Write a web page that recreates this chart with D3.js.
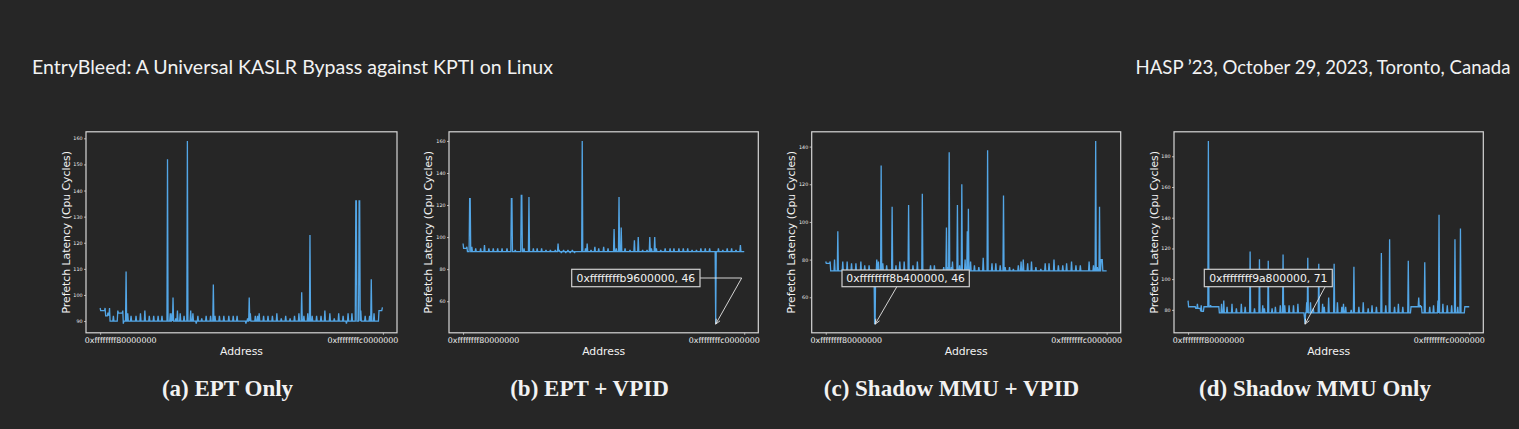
<!DOCTYPE html>
<html><head><meta charset="utf-8">
<script src="https://cdn.jsdelivr.net/npm/d3@7"></script>
<style>html,body{margin:0;padding:0;background:#262626;overflow:hidden}svg{display:block}</style>
</head><body>
<svg id="chart" width="1519" height="429"></svg>
<script>
// ---------------- DATA ----------------
const N = 512; // 2 MiB slots between the two tick addresses
const xTickIdx = [0, 512];
const xTickLabels = ["0xffffffff80000000", "0xffffffffc0000000"];
const headerLeft = "EntryBleed: A Universal KASLR Bypass against KPTI on Linux";
const headerRight = "HASP \u201923, October 29, 2023, Toronto, Canada";
const captions = ["(a) EPT Only", "(b) EPT + VPID", "(c) Shadow MMU + VPID", "(d) Shadow MMU Only"];
const xLabel = "Address";
const yLabel = "Prefetch Latency (Cpu Cycles)";

const yTicksA = [90, 100, 110, 120, 130, 140, 150, 160];
const yTicksB = [60, 80, 100, 120, 140, 160];
const yTicksC = [60, 80, 100, 120, 140];
const yTicksD = [80, 100, 120, 140, 160, 180];

// baseline latency + [startIdx, endIdx, value] readings
const baseA = 90;
const segA = [[0,0,95],[1,8,94],[9,9,95],[10,13,92],[14,15,93],[16,16,92],[17,17,95],
[24,24,92],[32,32,94],[33,40,93],[41,41,94],[42,42,89],[47,47,109],[50,50,93],[56,56,92],[65,65,92],
[73,73,93],[81,81,94],[89,89,92],[97,97,92],[105,105,92],[112,112,92],[122,122,152],[127,127,93],
[130,130,93],[132,132,99],[137,137,91],[140,140,94],[145,145,93],[152,152,92],[158,158,159],[164,164,94],
[168,168,93],[174,174,89],[177,177,92],[184,184,91],[192,192,92],[200,200,92],[205,205,104],[208,208,92],
[216,216,92],[224,224,92],[233,233,92],[241,241,92],[248,248,92],[264,264,89],[267,267,91],[270,270,99],
[272,272,93],[281,281,92],[285,285,92],[288,288,93],[296,296,92],[304,304,92],[312,312,92],[320,320,93],
[328,328,91],[336,336,92],[344,344,91],[352,352,92],[360,360,93],[365,365,101],[369,369,92],[376,376,93],
[380,380,123],[384,384,92],[392,392,92],[400,400,92],[407,407,94],[416,416,93],[424,424,91],[432,432,93],
[440,440,92],[446,446,89],[449,449,93],[456,456,93],[463,464,136],[469,470,136],[472,472,94],[480,480,92],
[488,488,92],[491,491,106],[496,496,93],[505,510,94],[511,512,95]];

const baseB = 91;
const segB = [[0,0,96],[1,6,93],[7,7,94],[12,13,124],[16,16,94],[23,23,93],[32,32,93],[39,39,95],
[47,47,93],[55,55,93],[63,63,93],[71,71,93],[80,80,93],[88,89,124],[95,95,92],[106,107,126],[111,111,93],
[120,120,125],[128,128,93],[135,135,93],[143,143,93],[151,151,92],[159,159,92],[168,168,92],[173,173,96],
[175,175,92],[179,179,90],[183,183,92],[187,187,90],[191,191,92],[195,195,90],[199,199,92],[203,203,90],
[217,217,160],[223,223,93],[226,226,96],[233,233,92],[240,240,94],[247,247,93],[256,256,94],[264,264,93],
[275,275,105],[279,279,93],[284,284,125],[288,288,106],[295,295,93],[304,304,92],[312,312,98],[319,319,100],
[327,327,92],[335,335,92],[340,340,100],[343,343,93],[349,349,100],[352,352,93],[360,360,92],[368,368,93],
[377,377,93],[384,384,93],[393,393,93],[401,401,93],[409,409,93],[417,417,92],[425,425,92],[433,433,93],
[441,441,93],[449,449,93],[460,460,46],[465,465,93],[473,473,92],[481,481,93],[489,489,93],[497,497,92],
[505,505,95]];

const baseC = 74;
const segC = [[0,0,79],[1,7,78],[8,8,79],[16,16,80],[22,22,95],[31,31,79],[39,39,79],[47,47,78],
[55,55,78],[64,64,79],[71,71,77],[79,79,77],[89,90,46],[93,93,80],[96,96,79],[101,101,130],[104,104,78],
[111,111,77],[121,121,108],[128,128,77],[135,135,79],[143,143,79],[151,151,109],[159,159,77],[167,167,79],
[176,176,115],[191,191,77],[198,198,77],[215,215,76],[220,220,97],[223,223,76],[225,225,137],[229,229,76],
[231,231,79],[240,240,109],[244,244,77],[248,248,120],[254,254,80],[258,258,95],[260,260,107],[264,264,79],
[271,271,77],[279,279,76],[287,287,81],[295,295,138],[303,303,78],[310,310,78],[318,318,77],[324,324,114],
[327,327,76],[335,335,76],[342,342,75],[351,351,77],[356,356,79],[360,360,80],[368,368,78],[375,375,79],
[383,383,76],[392,392,75],[400,400,78],[407,407,78],[416,416,80],[424,424,77],[432,432,77],[439,439,78],
[448,448,79],[456,456,77],[464,464,77],[480,480,79],[488,488,77],[492,492,143],[495,495,76],[499,499,108],
[502,504,80]];

const baseD = 78;
const segD = [[0,0,86],[1,13,82],[14,22,81],[23,28,79],[29,56,82],[17,17,84],[24,24,83],[37,37,190],
[41,41,83],[61,61,84],[65,65,86],[71,71,82],[80,80,84],[88,88,81],[97,97,84],[104,104,82],[113,113,118],
[121,121,81],[130,130,113],[136,136,83],[139,139,81],[146,146,112],[153,153,81],[159,159,82],[168,168,83],
[173,173,116],[176,176,83],[184,184,83],[192,192,83],[200,200,84],[212,212,75],[213,213,71],[216,216,85],
[218,218,114],[223,223,85],[228,228,81],[238,238,110],[245,245,84],[248,248,82],[256,256,88],[266,266,110],
[272,272,85],[280,280,82],[283,283,84],[287,287,82],[297,297,80],[302,302,108],[311,311,82],[319,319,85],
[328,328,81],[335,335,83],[343,343,82],[352,352,117],[360,360,83],[367,367,126],[376,376,82],[383,383,84],
[391,391,82],[401,401,112],[406,425,82],[420,420,88],[423,423,83],[431,431,111],[440,440,82],[447,447,83],
[455,455,86],[457,457,142],[464,464,84],[472,472,83],[480,480,83],[486,486,126],[491,491,82],[496,496,133],
[504,512,82]];

// annotated minimum: [index, text]
const annotB = [460, "0xffffffffb9600000, 46"];
const annotC = [90, "0xffffffff8b400000, 46"];
const annotD = [213, "0xffffffff9a800000, 71"];

// ---------------- LAYOUT ----------------
const BG = "#262626", FG = "#f2f2f2", FRAME = "#d6d6d6", LINE = "#53a6e6";
const FY0 = 131.8, FY1 = 332.8;
const panels = [
  {base: baseA, seg: segA, ticks: yTicksA, fx0: 86, fx1: 397, ylx: 66.7, cap: 227.5, annot: null},
  {base: baseB, seg: segB, ticks: yTicksB, fx0: 449, fx1: 758.3, ylx: 428.3, cap: 589.5, annot: annotB,
     box: [571.7, 269.3, 128.3, 17.4], from: [[700, 278], [741.7, 278]]},
  {base: baseC, seg: segC, ticks: yTicksC, fx0: 811.7, fx1: 1120.7, ylx: 791.7, cap: 951.5, annot: annotC,
     box: [842, 270, 127.3, 16.7], from: [[896.7, 287]]},
  {base: baseD, seg: segD, ticks: yTicksD, fx0: 1174, fx1: 1483.3, ylx: 1154.3, cap: 1315, annot: annotD,
     box: [1204.3, 269.3, 128, 17.4], from: [[1325, 287]]}
];

const svg = d3.select("#chart");
svg.append("rect").attr("width", 1519).attr("height", 429).attr("fill", BG);

svg.append("text").attr("x", 32).attr("y", 74).attr("fill", FG)
  .attr("font-family", "Lato, 'Open Sans', sans-serif").attr("font-size", 19.5)
  .attr("textLength", 521).attr("lengthAdjust", "spacingAndGlyphs").text(headerLeft);
svg.append("text").attr("x", 1135.5).attr("y", 74).attr("fill", FG)
  .attr("font-family", "Lato, 'Open Sans', sans-serif").attr("font-size", 18.4)
  .attr("textLength", 375).attr("lengthAdjust", "spacingAndGlyphs").text(headerRight);

function buildSeries(base, segs) {
  const v = new Array(N + 1).fill(base);
  segs.forEach(([s, e, val]) => { for (let i = s; i <= e; i++) v[i] = val; });
  return v.map((y, i) => ({i, y}));
}

const PLOTFONT = "'DejaVu Sans', sans-serif";

panels.forEach((p, k) => {
  const data = buildSeries(p.base, p.seg);
  const ext = d3.extent(data, d => d.y);
  const m = (ext[1] - ext[0]) * 0.05;
  const x = d3.scaleLinear().domain([-N * 0.05, N * 1.05]).range([p.fx0, p.fx1]);
  const y = d3.scaleLinear().domain([ext[0] - m, ext[1] + m]).range([FY1, FY0]);
  const g = svg.append("g");

  g.append("path").datum(data)
    .attr("d", d3.line().x(d => x(d.i)).y(d => y(d.y)))
    .attr("fill", "none").attr("stroke", LINE).attr("stroke-width", 1.3)
    .attr("stroke-linejoin", "miter").attr("stroke-miterlimit", 2);

  // y axis
  const ya = g.append("g").attr("transform", `translate(${p.fx0},0)`)
    .call(d3.axisLeft(y).tickValues(p.ticks).tickSize(2).tickPadding(1.5));
  ya.select(".domain").remove();
  ya.selectAll("line").attr("stroke", FRAME).attr("stroke-width", 0.8);
  ya.selectAll("text").attr("fill", FG).attr("font-size", 4.8).attr("font-family", PLOTFONT);

  // x axis
  const xa = g.append("g").attr("transform", `translate(0,${FY1})`)
    .call(d3.axisBottom(x).tickValues(xTickIdx).tickFormat((d, i) => xTickLabels[i]).tickSize(2));
  xa.select(".domain").remove();
  xa.selectAll("line").attr("stroke", FRAME).attr("stroke-width", 0.8);
  xa.selectAll("text").attr("fill", FG).attr("font-size", 7.9).attr("font-family", PLOTFONT)
    .attr("y", 9.9).attr("dy", 0).attr("dx", (d, i) => i === 0 ? 20 : -20.5);

  // frame
  g.append("rect").attr("x", p.fx0).attr("y", FY0).attr("width", p.fx1 - p.fx0).attr("height", FY1 - FY0)
    .attr("fill", "none").attr("stroke", FRAME).attr("stroke-width", 1.2);

  // labels
  g.append("text").attr("x", (p.fx0 + p.fx1) / 2).attr("y", 355).attr("text-anchor", "middle")
    .attr("fill", FG).attr("font-size", 10.8).attr("font-family", PLOTFONT).text(xLabel);
  g.append("text").attr("transform", `translate(${p.ylx},${(FY0 + FY1) / 2}) rotate(-90)`)
    .attr("text-anchor", "middle").attr("dominant-baseline", "central")
    .attr("fill", FG).attr("font-size", 10.8).attr("font-family", PLOTFONT).text(yLabel);

  // annotation
  if (p.annot) {
    const pt = data[p.annot[0]];
    const tip = [x(pt.i), y(pt.y) + 0.5];
    const pts = p.from.concat([tip]);
    g.append("path").attr("d", d3.line()(pts)).attr("fill", "none")
      .attr("stroke", "#e6e6e6").attr("stroke-width", 0.9);
    const prev = pts[pts.length - 2];
    const dx = tip[0] - prev[0], dy = tip[1] - prev[1], L = Math.hypot(dx, dy);
    const ux = dx / L, uy = dy / L, hl = 5.5, th = 0.4;
    const head = [-th, th].map(a => {
      const c = Math.cos(a), s = Math.sin(a);
      const rx = ux * c - uy * s, ry = ux * s + uy * c;
      return [tip[0] - hl * rx, tip[1] - hl * ry];
    });
    g.append("path").attr("d", d3.line()([head[0], tip, head[1]])).attr("fill", "none")
      .attr("stroke", "#e6e6e6").attr("stroke-width", 0.9);
    const [bx, by, bw, bh] = p.box;
    g.append("rect").attr("x", bx).attr("y", by).attr("width", bw).attr("height", bh)
      .attr("fill", BG).attr("stroke", "#cfcfcf").attr("stroke-width", 1.2);
    g.append("text").attr("x", bx + bw / 2).attr("y", by + bh / 2 + 0.3).attr("text-anchor", "middle")
      .attr("dominant-baseline", "central").attr("fill", FG).attr("font-size", 10.8)
      .attr("font-family", PLOTFONT).text(p.annot[1]);
  }

  // caption
  svg.append("text").attr("x", p.cap).attr("y", 395.5).attr("text-anchor", "middle")
    .attr("fill", FG).attr("font-family", "'Liberation Serif', 'DejaVu Serif', serif")
    .attr("font-weight", "bold").attr("font-size", 23).text(captions[k]);
});
</script>
</body></html>
